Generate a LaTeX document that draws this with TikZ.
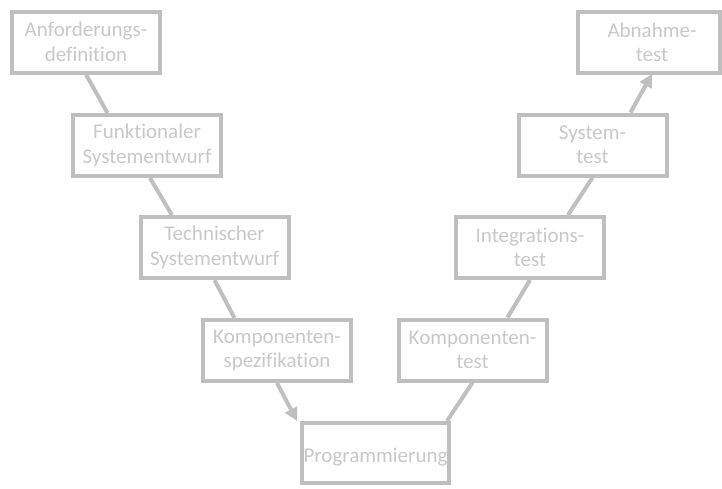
\documentclass[tikz,border=0pt]{standalone}
\usepackage{fontspec}
\setmainfont{Carlito}[Ligatures={NoCommon}]
\usetikzlibrary{arrows.meta,calc}
\definecolor{boxgray}{HTML}{BFBFBF}
\definecolor{txtgray}{HTML}{C8C8C8}
\tikzset{
  stagebox/.style={draw=boxgray, line width=4pt, minimum width=148pt, minimum height=61pt,
    inner sep=0pt, align=center, text=txtgray, font=\fontsize{21}{24.5}\selectfont},
  conn/.style={draw=boxgray, line width=4pt},
  connarrow/.style={conn, -{Triangle[length=13pt,width=13pt]}}
}
\begin{document}
\begin{tikzpicture}[x=1pt,y=-1pt]
\useasboundingbox (0,0) rectangle (722,488);
\node[stagebox] (b1) at (86,42) {Anforderungs-\\definition};
\node[stagebox] (b2) at (147,145.5) {Funktionaler\\Systementwurf};
\node[stagebox] (b3) at (214.5,247.5) {Technischer\\Systementwurf};
\node[stagebox] (b4) at (277,350.5) {Komponenten-\\spezifikation};
\node[stagebox, minimum width=147pt, minimum height=60pt] (b5) at (375.5,453) {\raisebox{-9pt}[0pt][0pt]{Programmierung}};
\node[stagebox] (b6) at (472.5,350) {Komponenten-\\test};
\node[stagebox] (b7) at (530,247.5) {Integrations-\\test};
\node[stagebox] (b8) at (592.5,145) {System-\\test};
\node[stagebox, minimum width=142pt, text width=142pt] (b9) at (649,42.5) {\hspace*{6pt}Abnahme-\\\hspace*{6pt}test};
\draw[conn] (b1.south) -- ($(b2.north west)!0.24!(b2.north east)$);
\draw[conn] ($(b2.south)+(3,0)$) -- ($(b3.north west)!0.22!(b3.north east)$);
\draw[conn] (b3.south) -- ($(b4.north west)!0.22!(b4.north east)$);
\draw[connarrow] (b4.south) -- ($(b5.north west)+(-3,0)$);
\draw[conn] ($(b5.north east)+(-4,0)$) -- (b6.south);
\draw[conn] ($(b6.north west)!0.73!(b6.north east)$) -- (b7.south);
\draw[conn] ($(b7.north west)!0.75!(b7.north east)$) -- (b8.south);
\draw[connarrow] ($(b8.north west)!0.75!(b8.north east)$) -- ($(b9.south)+(3,-1)$);
\end{tikzpicture}
\end{document}
